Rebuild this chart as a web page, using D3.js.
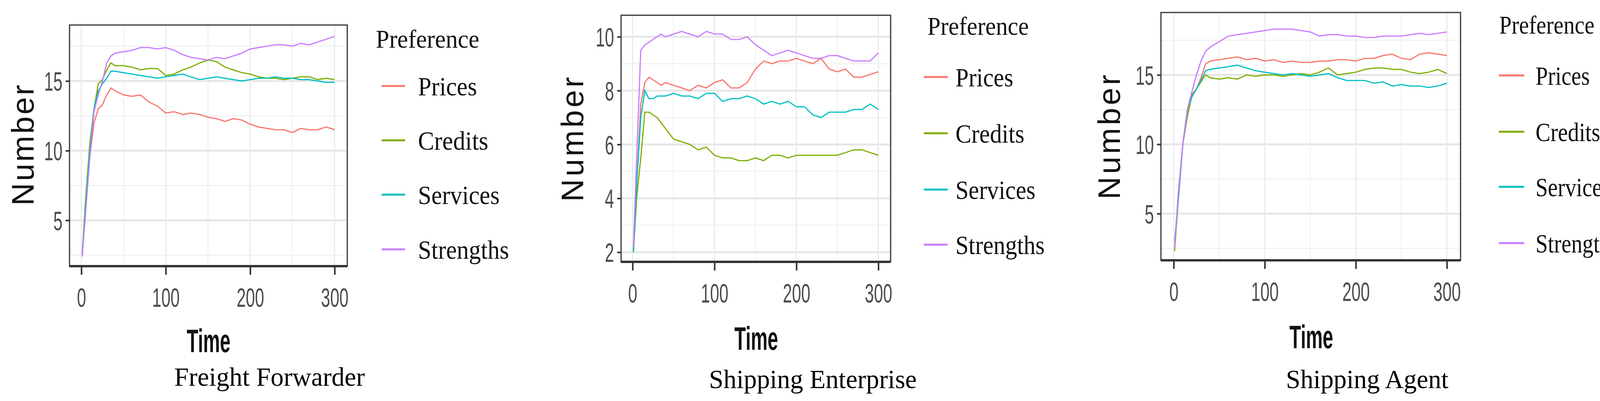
<!DOCTYPE html>
<html><head><meta charset="utf-8">
<script src="https://cdn.jsdelivr.net/npm/d3@7"></script>
<style>body{margin:0;background:#fff}</style>
</head><body>
<svg id="chart" width="4159" height="1026"></svg>
<script>
const times = [1,5,10,15,20,25,30,35,40,50,60,70,80,90,100,110,120,130,140,150,160,170,180,190,200,210,220,230,240,250,260,270,280,290,300];
const preferences = ['Prices','Credits','Services','Strengths'];
const colors = ['#F8766D','#7CAE00','#00BFC4','#C77CFF'];
const xTicks = [0,100,200,300];

const ffPrices    = [2.5,6,9.5,12,13,13.3,14,14.5,14.3,14,13.9,14,13.5,13.2,12.7,12.8,12.6,12.7,12.6,12.4,12.3,12.1,12.3,12.2,11.9,11.7,11.6,11.5,11.5,11.3,11.6,11.5,11.5,11.7,11.5];
const ffCredits   = [2.5,6.5,10.5,13,14.8,15.1,15.8,16.3,16.1,16.1,16.0,15.8,15.9,15.9,15.4,15.5,15.8,16.0,16.3,16.5,16.4,16.0,15.8,15.6,15.5,15.3,15.2,15.2,15.1,15.2,15.3,15.3,15.1,15.2,15.1];
const ffServices  = [2.5,6,10,13,14.3,14.8,15.2,15.7,15.7,15.6,15.5,15.4,15.3,15.2,15.3,15.4,15.5,15.3,15.1,15.2,15.3,15.2,15.1,15.0,15.1,15.2,15.2,15.3,15.2,15.2,15.1,15.1,15.0,14.9,14.9];
const ffStrengths = [2.4,5.5,9.5,12.8,14,15,16.3,16.8,17.0,17.1,17.2,17.4,17.4,17.3,17.4,17.2,16.9,16.7,16.6,16.5,16.7,16.6,16.8,17.0,17.3,17.4,17.5,17.6,17.6,17.5,17.7,17.6,17.8,18.0,18.2];

const sePrices    = [2,4.5,7.5,8.3,8.5,8.4,8.3,8.2,8.3,8.2,8.1,8.0,8.2,8.1,8.3,8.4,8.1,8.1,8.3,8.8,9.1,9.0,9.1,9.1,9.2,9.1,9.0,9.2,8.8,8.7,8.8,8.5,8.5,8.6,8.7];
const seCredits   = [2,4,5.5,7.2,7.2,7.1,7.0,6.8,6.6,6.2,6.1,6.0,5.8,5.9,5.6,5.5,5.5,5.4,5.4,5.5,5.4,5.6,5.6,5.5,5.6,5.6,5.6,5.6,5.6,5.6,5.7,5.8,5.8,5.7,5.6];
const seServices  = [2,4.5,7,8.0,7.7,7.7,7.8,7.8,7.8,7.9,7.8,7.8,7.7,7.9,7.9,7.6,7.7,7.7,7.8,7.7,7.5,7.6,7.5,7.6,7.4,7.4,7.1,7.0,7.2,7.2,7.2,7.3,7.3,7.5,7.3];
const seStrengths = [2.2,5.5,9.5,9.7,9.8,9.9,10.0,10.1,10.0,10.1,10.2,10.1,10.0,10.2,10.1,10.1,9.9,9.9,10.0,9.7,9.5,9.3,9.4,9.5,9.4,9.3,9.2,9.2,9.3,9.3,9.2,9.1,9.1,9.1,9.4];

const saPrices    = [2.5,6,10,12,13.6,14,14.8,15.8,16.0,16.1,16.2,16.3,16.1,16.2,16.0,16.1,15.9,16.0,15.9,15.9,16.0,16.0,16.1,16.1,16.0,16.2,16.2,16.4,16.5,16.2,16.1,16.5,16.6,16.5,16.4];
const saCredits   = [2.3,6,10,12,13.5,14,14.5,15.0,14.8,14.7,14.8,14.7,15.0,14.9,15.0,15.0,14.9,15.0,15.1,15.0,15.2,15.5,15.0,15.1,15.2,15.4,15.5,15.5,15.4,15.4,15.2,15.1,15.2,15.4,15.1];
const saServices  = [3,6,10,12.5,13.4,14,14.6,15.3,15.4,15.5,15.6,15.7,15.5,15.3,15.2,15.1,15.0,15.1,15.0,14.9,15.0,15.1,14.8,14.6,14.6,14.6,14.4,14.5,14.2,14.3,14.2,14.2,14.1,14.2,14.4];
const saStrengths = [2.5,6.5,10,12.5,13.8,15,16,16.7,17.0,17.4,17.8,17.9,18.0,18.1,18.2,18.3,18.3,18.3,18.2,18.1,17.8,17.9,17.9,17.8,17.8,17.7,17.7,17.8,17.8,17.8,17.9,18.0,17.9,18.0,18.1];

const legendWidths = [151,180,209,233];

const panels = [
  {title:'Freight Forwarder', series:[ffPrices,ffCredits,ffServices,ffStrengths], yTicks:[5,10,15], minor:[2.5,7.5,12.5,17.5], yDom:[1.71,19.02],
   x0:178, x1:889, y0:64, y1:681, numX:58, numY:[217,526], timeX:534, timeY:901, titleX:[446,934], titleY:987,
   legX:962, legY:122, itemY:[220,359,498,638], lineX:[977,1037], textX:1070, k:1},
  {title:'Shipping Enterprise', series:[sePrices,seCredits,seServices,seStrengths], yTicks:[2,4,6,8,10], minor:[3,5,7,9], yDom:[1.64,10.8],
   x0:1590, x1:2280, y0:39, y1:670, numX:1465, numY:[197,516], timeX:1936, timeY:895, titleX:[1815,2347], titleY:993,
   legX:2374, legY:89, itemY:[197,341,485,626], lineX:[2365,2426], textX:2446, k:0.98},
  {title:'Shipping Agent', series:[saPrices,saCredits,saServices,saStrengths], yTicks:[5,10,15], minor:[2.5,7.5,12.5,17.5], yDom:[1.64,19.5],
   x0:2972, x1:3739, y0:32, y1:666, numX:2839, numY:[191,510], timeX:3357, timeY:891, titleX:[3292,3708], titleY:993,
   legX:3838, legY:86, itemY:[193,337,478,622], lineX:[3837,3902], textX:3931, k:0.92}
];

const svg = d3.select('#chart');

panels.forEach(p => {
  const g = svg.append('g');
  const x = d3.scaleLinear().domain([-14,315]).range([p.x0,p.x1]);
  const y = d3.scaleLinear().domain(p.yDom).range([p.y1,p.y0]);

  // grid
  const minorX = [50,150,250];
  g.selectAll('.mgy').data(p.minor).enter().append('line')
    .attr('x1',p.x0).attr('x2',p.x1).attr('y1',d=>y(d)).attr('y2',d=>y(d))
    .attr('stroke','#f2f2f2').attr('stroke-width',3);
  g.selectAll('.mgx').data(minorX).enter().append('line')
    .attr('y1',p.y0).attr('y2',p.y1).attr('x1',d=>x(d)).attr('x2',d=>x(d))
    .attr('stroke','#f2f2f2').attr('stroke-width',3);
  g.selectAll('.gy').data(p.yTicks).enter().append('line')
    .attr('x1',p.x0).attr('x2',p.x1).attr('y1',d=>y(d)).attr('y2',d=>y(d))
    .attr('stroke','#e6e6e6').attr('stroke-width',5);
  g.selectAll('.gx').data(xTicks).enter().append('line')
    .attr('y1',p.y0).attr('y2',p.y1).attr('x1',d=>x(d)).attr('x2',d=>x(d))
    .attr('stroke','#ebebeb').attr('stroke-width',3);

  // lines
  const line = d3.line().x((d,i)=>x(times[i])).y(d=>y(d));
  p.series.forEach((s,k) => {
    g.append('path').datum(s).attr('d',line).attr('fill','none')
      .attr('stroke',colors[k]).attr('stroke-width',3);
  });

  // border
  g.append('rect').attr('x',p.x0).attr('y',p.y0).attr('width',p.x1-p.x0).attr('height',p.y1-p.y0)
    .attr('fill','none').attr('stroke','#333').attr('stroke-width',3);
  g.append('line').attr('x1',p.x0).attr('x2',p.x1).attr('y1',p.y1).attr('y2',p.y1)
    .attr('stroke','#333').attr('stroke-width',6);

  // axes
  const xa = g.append('g').attr('transform','translate(0,'+p.y1+')')
    .call(d3.axisBottom(x).tickValues(xTicks).tickSize(22).tickPadding(34));
  const ya = g.append('g').attr('transform','translate('+p.x0+',0)')
    .call(d3.axisLeft(y).tickValues(p.yTicks).tickSize(10).tickPadding(8));
  [xa,ya].forEach(a => {
    a.select('.domain').remove();
    a.selectAll('line').attr('stroke','#333').attr('stroke-width',4);
    a.selectAll('text').attr('fill','#4d4d4d').style('font-family','"Liberation Sans", sans-serif')
      .style('font-size','68px')
      .attr('textLength',d => String(d).length*23.5).attr('lengthAdjust','spacingAndGlyphs');
  });
  ya.selectAll('text').attr('dy','0.36em');

  // axis titles
  g.append('text').text('Number')
    .attr('transform','translate('+(p.numX+28)+','+((p.numY[0]+p.numY[1])/2)+') rotate(-90)')
    .attr('text-anchor','middle').attr('textLength',p.numY[1]-p.numY[0]).attr('lengthAdjust','spacing')
    .style('font-family','"Liberation Sans", sans-serif').style('font-size','80px').attr('fill','#111');
  g.append('text').text('Time').attr('x',p.timeX).attr('y',p.timeY).attr('text-anchor','middle')
    .attr('textLength',112).attr('lengthAdjust','spacingAndGlyphs')
    .style('font-family','"Liberation Sans", sans-serif').style('font-weight','bold')
    .style('font-size','84px').attr('fill','#111');
  g.append('text').text(p.title).attr('x',p.titleX[0]).attr('y',p.titleY)
    .attr('textLength',p.titleX[1]-p.titleX[0]).attr('lengthAdjust','spacingAndGlyphs')
    .style('font-family','"Liberation Serif", serif').style('font-size','68px').attr('fill','#000');

  // legend
  g.append('text').text('Preference').attr('x',p.legX).attr('y',p.legY)
    .attr('textLength',265*p.k).attr('lengthAdjust','spacingAndGlyphs')
    .style('font-family','"Liberation Serif", serif').style('font-size','66px').attr('fill','#111');
  preferences.forEach((name,k) => {
    g.append('line').attr('x1',p.lineX[0]).attr('x2',p.lineX[1]).attr('y1',p.itemY[k]).attr('y2',p.itemY[k])
      .attr('stroke',colors[k]).attr('stroke-width',5);
    g.append('text').text(name).attr('x',p.textX).attr('y',p.itemY[k]).attr('dy','0.35em')
      .attr('textLength',legendWidths[k]*p.k).attr('lengthAdjust','spacingAndGlyphs')
      .style('font-family','"Liberation Serif", serif').style('font-size','68px').attr('fill','#111');
  });
});
</script>
</body></html>
